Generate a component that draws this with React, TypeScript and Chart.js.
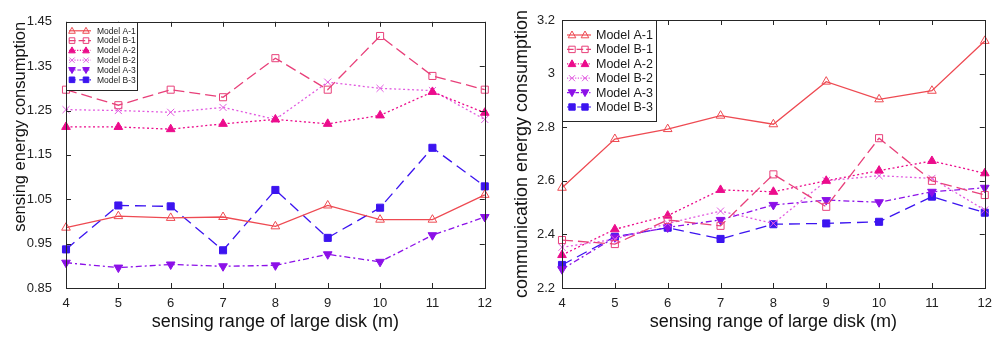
import React, { useEffect, useRef } from "react";
import { Chart, registerables } from "chart.js";

Chart.register(...registerables);

const categories = ["4", "5", "6", "7", "8", "9", "10", "11", "12"];
const seriesNames = ["Model A-1", "Model B-1", "Model A-2", "Model B-2", "Model A-3", "Model B-3"];

// sensing energy consumption (left)
const sensA1 = [0.986, 1.012, 1.008, 1.01, 0.989, 1.036, 1.004, 1.004, 1.06];
const sensB1 = [1.297, 1.262, 1.297, 1.28, 1.368, 1.297, 1.418, 1.328, 1.297];
const sensA2 = [1.213, 1.213, 1.208, 1.22, 1.23, 1.22, 1.239, 1.292, 1.245];
const sensB2 = [1.252, 1.25, 1.246, 1.257, 1.23, 1.314, 1.3, 1.295, 1.23];
const sensA3 = [0.907, 0.896, 0.903, 0.899, 0.901, 0.926, 0.909, 0.969, 1.01];
const sensB3 = [0.937, 1.036, 1.034, 0.935, 1.071, 0.963, 1.031, 1.166, 1.079];

// communication energy consumption (right)
const commA1 = [2.574, 2.756, 2.793, 2.843, 2.811, 2.97, 2.904, 2.936, 3.122];
const commB1 = [2.379, 2.364, 2.454, 2.432, 2.624, 2.503, 2.759, 2.6, 2.547];
const commA2 = [2.323, 2.419, 2.47, 2.566, 2.559, 2.6, 2.638, 2.674, 2.628];
const commB2 = [2.352, 2.382, 2.441, 2.487, 2.441, 2.6, 2.619, 2.609, 2.491];
const commA3 = [2.27, 2.389, 2.426, 2.454, 2.51, 2.528, 2.52, 2.559, 2.574];
const commB3 = [2.286, 2.391, 2.425, 2.383, 2.438, 2.441, 2.447, 2.541, 2.481];

const FONT = "'Liberation Sans', Arial, sans-serif";
const FRAME = "#262626";

type Style = {
  color: string;
  dash: number[];
  point: string;
  rotation: number;
  filled: boolean;
};

const styles: Style[] = [
  { color: "#ee4a52", dash: [], point: "triangle", rotation: 0, filled: false },
  { color: "#e8407a", dash: [11, 5], point: "rect", rotation: 0, filled: false },
  { color: "#ec0c8c", dash: [2, 2.5], point: "triangle", rotation: 0, filled: true },
  { color: "#e25ae0", dash: [2, 2.5], point: "crossRot", rotation: 0, filled: false },
  { color: "#8c10e8", dash: [6, 3, 2, 3], point: "triangle", rotation: 180, filled: true },
  { color: "#3c14f0", dash: [11, 6], point: "rect", rotation: 0, filled: true },
];

function drawMarker(ctx: CanvasRenderingContext2D, s: Style, x: number, y: number, r: number) {
  ctx.save();
  ctx.translate(x, y);
  ctx.rotate((s.rotation * Math.PI) / 180);
  ctx.setLineDash([]);
  ctx.lineWidth = 1;
  ctx.strokeStyle = s.color;
  ctx.fillStyle = s.color;
  ctx.beginPath();
  if (s.point === "triangle") {
    ctx.moveTo(0, -r);
    ctx.lineTo(r * 0.95, r * 0.7);
    ctx.lineTo(-r * 0.95, r * 0.7);
    ctx.closePath();
  } else if (s.point === "rect") {
    ctx.rect(-r * 0.8, -r * 0.8, r * 1.6, r * 1.6);
  } else {
    const d = r * 0.75;
    ctx.moveTo(-d, -d);
    ctx.lineTo(d, d);
    ctx.moveTo(d, -d);
    ctx.lineTo(-d, d);
  }
  if (s.filled && s.point !== "crossRot") ctx.fill();
  ctx.stroke();
  ctx.restore();
}

type LegendOpts = {
  w: number;
  h: number;
  row0: number;
  rowH: number;
  lineX1: number;
  lineX2: number;
  m1: number;
  m2: number;
  textX: number;
  fontSize: number;
  r: number;
};

const framePlugin = {
  id: "frameTicks",
  afterDraw(chart: any, _args: any, opts: any) {
    const { ctx, chartArea } = chart;
    const { left, right, top, bottom } = chartArea;
    const xs = chart.scales.x;
    const ys = chart.scales.y;
    const tl = 5;
    ctx.save();
    ctx.strokeStyle = FRAME;
    ctx.lineWidth = 1;
    ctx.setLineDash([]);
    ctx.beginPath();
    xs.ticks.forEach((_t: any, i: number) => {
      const px = Math.round(xs.getPixelForTick(i)) + 0.5;
      ctx.moveTo(px, bottom);
      ctx.lineTo(px, bottom - tl);
      ctx.moveTo(px, top);
      ctx.lineTo(px, top + tl);
    });
    ys.ticks.forEach((_t: any, i: number) => {
      const py = Math.round(ys.getPixelForTick(i)) + 0.5;
      ctx.moveTo(left, py);
      ctx.lineTo(left + tl, py);
      ctx.moveTo(right, py);
      ctx.lineTo(right - tl, py);
    });
    ctx.stroke();
    ctx.strokeRect(Math.round(left) + 0.5, Math.round(top) + 0.5, Math.round(right - left), Math.round(bottom - top));

    // legend box inside the plot
    const L: LegendOpts = opts.legend;
    if (L) {
      const bx = Math.round(left) + 0.5;
      const by = Math.round(top) + 0.5;
      ctx.fillStyle = "#ffffff";
      ctx.fillRect(bx, by, L.w, L.h);
      ctx.strokeStyle = FRAME;
      ctx.strokeRect(bx, by, L.w, L.h);
      ctx.font = `${L.fontSize}px ${FONT}`;
      ctx.textBaseline = "middle";
      ctx.textAlign = "left";
      chart.data.datasets.forEach((ds: any, i: number) => {
        const s = styles[i];
        const y = top + L.row0 + i * L.rowH;
        ctx.strokeStyle = s.color;
        ctx.lineWidth = 1.2;
        ctx.setLineDash(s.dash.map((d) => d * 0.6));
        ctx.beginPath();
        ctx.moveTo(left + L.lineX1, y);
        ctx.lineTo(left + L.lineX2, y);
        ctx.stroke();
        drawMarker(ctx, s, left + L.m1, y, L.r);
        drawMarker(ctx, s, left + L.m2, y, L.r);
        ctx.fillStyle = "#1a1a1a";
        ctx.fillText(ds.label, left + L.textX, y + 0.5);
      });
    }
    ctx.restore();
  },
};

type ChartSpec = {
  values: number[][];
  yMin: number;
  yMax: number;
  yStep: number;
  yFmt: (v: number) => string;
  yTitle: string;
  yTitleAlign: "start" | "center" | "end";
  yTitleSize: number;
  yWidth: number;
  rightPad: number;
  tickPad: number;
  legend: LegendOpts;
};

function makeConfig(spec: ChartSpec): any {
  return {
    type: "line",
    data: {
      labels: categories,
      datasets: spec.values.map((vals, i) => {
        const s = styles[i];
        return {
          label: seriesNames[i],
          data: vals,
          borderColor: s.color,
          backgroundColor: s.color,
          borderWidth: 1.3,
          borderDash: s.dash,
          pointStyle: s.point,
          pointRotation: s.rotation,
          pointRadius: 5,
          pointBorderWidth: 1,
          pointBorderColor: s.color,
          pointBackgroundColor: s.filled ? s.color : "rgba(255,255,255,0)",
          tension: 0,
          fill: false,
        };
      }),
    },
    options: {
      responsive: false,
      animation: false,
      layout: { padding: { left: 0, right: spec.rightPad, top: 20, bottom: 0 } },
      plugins: {
        legend: { display: false },
        tooltip: { enabled: false },
        frameTicks: { legend: spec.legend },
      },
      scales: {
        x: {
          type: "category",
          offset: false,
          grid: { display: false, drawTicks: false },
          border: { display: false },
          ticks: {
            color: "#222",
            font: { family: FONT, size: 13 },
            padding: 8,
            maxRotation: 0,
            autoSkip: false,
          },
          title: {
            display: true,
            text: "sensing range of large disk (m)",
            color: "#111",
            font: { family: FONT, size: 18 },
            padding: { top: 0, bottom: 4 },
          },
          afterFit(scale: any) {
            scale.height = 49;
          },
        },
        y: {
          min: spec.yMin,
          max: spec.yMax,
          grid: { display: false, drawTicks: false },
          border: { display: false },
          ticks: {
            stepSize: spec.yStep,
            color: "#222",
            font: { family: FONT, size: 13 },
            padding: spec.tickPad,
            callback: (v: any) => spec.yFmt(Number(v)),
          },
          title: {
            display: true,
            text: spec.yTitle,
            align: spec.yTitleAlign,
            color: "#111",
            font: { family: FONT, size: spec.yTitleSize },
            padding: { top: 11, bottom: 0 },
          },
          afterFit(scale: any) {
            scale.width = spec.yWidth;
          },
        },
      },
    },
    plugins: [framePlugin],
  };
}

function ChartBox({ spec }: { spec: ChartSpec }) {
  const ref = useRef<HTMLCanvasElement | null>(null);
  useEffect(() => {
    if (!ref.current) return;
    const chart = new Chart(ref.current, makeConfig(spec));
    return () => chart.destroy();
  }, [spec]);
  return <canvas ref={ref} width={500} height={337} style={{ display: "block" }} />;
}

const leftSpec: ChartSpec = {
  values: [sensA1, sensB1, sensA2, sensB2, sensA3, sensB3],
  yMin: 0.85,
  yMax: 1.45,
  yStep: 0.1,
  yFmt: (v) => v.toFixed(2),
  yTitle: "sensing energy consumption",
  yTitleAlign: "end",
  yTitleSize: 16.5,
  yWidth: 66,
  rightPad: 15,
  tickPad: 14,
  legend: { w: 71, h: 68, row0: 9, rowH: 9.8, lineX1: 3, lineX2: 25, m1: 6, m2: 20, textX: 31, fontSize: 8.5, r: 3.5 },
};

const rightSpec: ChartSpec = {
  values: [commA1, commB1, commA2, commB2, commA3, commB3],
  yMin: 2.2,
  yMax: 3.2,
  yStep: 0.2,
  yFmt: (v) => String(parseFloat(v.toFixed(1))),
  yTitle: "communication energy consumption",
  yTitleAlign: "center",
  yTitleSize: 18,
  yWidth: 62,
  rightPad: 12,
  tickPad: 7,
  legend: { w: 94, h: 101, row0: 15, rowH: 14.4, lineX1: 5, lineX2: 29, m1: 10, m2: 23, textX: 34, fontSize: 12.5, r: 4 },
};

export default function App() {
  return (
    <div
      style={{
        position: "fixed",
        left: 0,
        top: 0,
        width: 1000,
        height: 337,
        background: "#fff",
        display: "flex",
      }}
    >
      <ChartBox spec={leftSpec} />
      <ChartBox spec={rightSpec} />
    </div>
  );
}
